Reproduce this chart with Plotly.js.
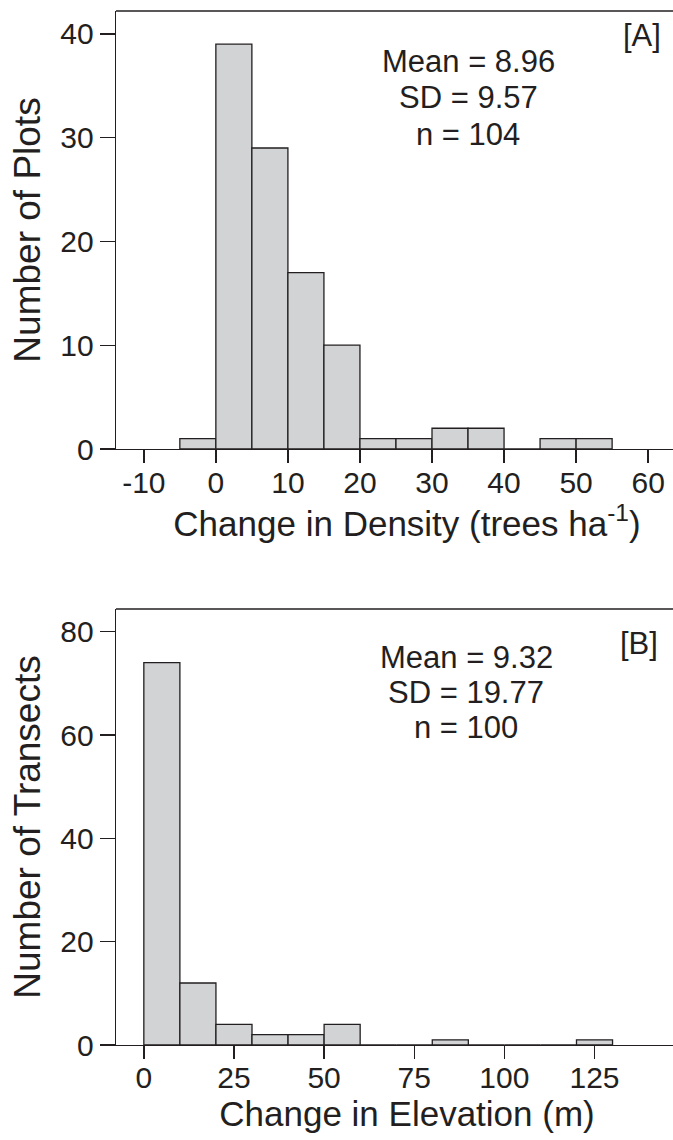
<!DOCTYPE html>
<html>
<head>
<meta charset="utf-8">
<script src="https://cdn.plot.ly/plotly-3.0.1.min.js"></script>
<style>html,body{margin:0;padding:0;background:#fff;overflow:hidden;}#chart{width:673px;height:1140px;overflow:hidden;}</style>
</head>
<body>
<div id="chart"></div>
<script>
// Panel A: change in density, bins of 5 trees/ha (left edges)
const densityBinStarts = [-5, 0, 5, 10, 15, 20, 25, 30, 35, 40, 45, 50];
const densityCounts    = [ 1, 39, 29, 17, 10, 1, 1, 2, 2, 0, 1, 1];
const densityBinWidth  = 5;
const densityTicks     = [-10, 0, 10, 20, 30, 40, 50, 60];
const densityTickText  = ["-10", "0", "10", "20", "30", "40", "50", "60"];
const plotsTicks       = [0, 10, 20, 30, 40];
const statsA = ["Mean = 8.96", "SD = 9.57", "n = 104"];

// Panel B: change in elevation, bins of 10 m (left edges)
const elevBinStarts = [0, 10, 20, 30, 40, 50, 60, 70, 80, 90, 100, 110, 120];
const elevCounts    = [74, 12, 4, 2, 2, 4, 0, 0, 1, 0, 0, 0, 1];
const elevBinWidth  = 10;
const elevTicks     = [0, 25, 50, 75, 100, 125];
const transectTicks = [0, 20, 40, 60, 80];
const statsB = ["Mean = 9.32", "SD = 19.77", "n = 100"];

const ink = "#231f20";
const fill = "#d1d3d4";
const fam = "Liberation Sans, Arial, Helvetica, sans-serif";

const traces = [
  {type: "bar", x: densityBinStarts, y: densityCounts, width: densityBinStarts.map(() => densityBinWidth),
   offset: 0, xaxis: "x", yaxis: "y",
   marker: {color: fill, line: {color: ink, width: 1.3}}, hoverinfo: "x+y"},
  {type: "bar", x: elevBinStarts, y: elevCounts, width: elevBinStarts.map(() => elevBinWidth),
   offset: 0, xaxis: "x2", yaxis: "y2",
   marker: {color: fill, line: {color: ink, width: 1.3}}, hoverinfo: "x+y"}
];

const axisCommon = {
  showgrid: false, zeroline: false, showline: true, linecolor: ink, linewidth: 1.4,
  ticks: "outside", tickwidth: 1.4, tickcolor: ink,
  tickfont: {family: fam, size: 30, color: ink}, fixedrange: true
};
const xTitleFont = {family: fam, size: 35, color: ink};
const yTitleFont = {family: fam, size: 37, color: ink};
const noteFont = {family: fam, size: 31, color: ink};

// one text line per annotation, each placed at its own height in data units
const statsAY = [37.3, 33.9, 30.3];
const statsBY = [75.1, 68.3, 61.5];

const annotations = []
  .concat(statsA.map((t, i) => ({xref: "x", yref: "y", x: 35.0, y: statsAY[i], text: t,
     showarrow: false, font: noteFont})))
  .concat(statsB.map((t, i) => ({xref: "x2", yref: "y2", x: 89.4, y: statsBY[i], text: t,
     showarrow: false, font: noteFont})))
  .concat([
    {xref: "x", yref: "y", x: 59.1, y: 39.8, text: "[A]", showarrow: false, font: noteFont},
    {xref: "x2", yref: "y2", x: 137.4, y: 77.7, text: "[B]", showarrow: false, font: noteFont}
  ]);

const layout = {
  width: 698, height: 1140,
  margin: {l: 116, r: 0, t: 11, b: 95},
  paper_bgcolor: "#fff", plot_bgcolor: "#fff",
  showlegend: false, bargap: 0,
  font: {family: fam, color: ink},
  xaxis: Object.assign({}, axisCommon, {
    anchor: "y", range: [-13.86, 66.92], tickmode: "array", tickvals: densityTicks,
    ticktext: densityTickText, ticklen: 13, ticklabelstandoff: -6,
    title: {text: "Change in Density (trees ha<sup>-1</sup>)", font: xTitleFont, standoff: 0}
  }),
  yaxis: Object.assign({}, axisCommon, {
    domain: [0.5764, 1], anchor: "x", range: [0, 42.2], tickmode: "array", tickvals: plotsTicks,
    ticklen: 15,
    title: {text: "Number of Plots", font: yTitleFont, standoff: 8}
  }),
  xaxis2: Object.assign({}, axisCommon, {
    anchor: "y2", range: [-7.72, 153.7], tickmode: "array", tickvals: elevTicks, ticklen: 13,
    ticklabelstandoff: -7,
    title: {text: "Change in Elevation (m)", font: xTitleFont, standoff: 0}
  }),
  yaxis2: Object.assign({}, axisCommon, {
    domain: [0, 0.4217], anchor: "x2", range: [0, 84.4], tickmode: "array", tickvals: transectTicks,
    ticklen: 15,
    title: {text: "Number of Transects", font: yTitleFont, standoff: 8}
  }),
  shapes: [
    {type: "line", xref: "x domain", yref: "y domain", x0: 0, x1: 1, y0: 1, y1: 1, line: {color: ink, width: 1.4}},
    {type: "line", xref: "x2 domain", yref: "y2 domain", x0: 0, x1: 1, y0: 1, y1: 1, line: {color: ink, width: 1.4}}
  ],
  annotations: annotations
};

Plotly.newPlot("chart", traces, layout, {displayModeBar: false, staticPlot: true});
</script>
</body>
</html>
